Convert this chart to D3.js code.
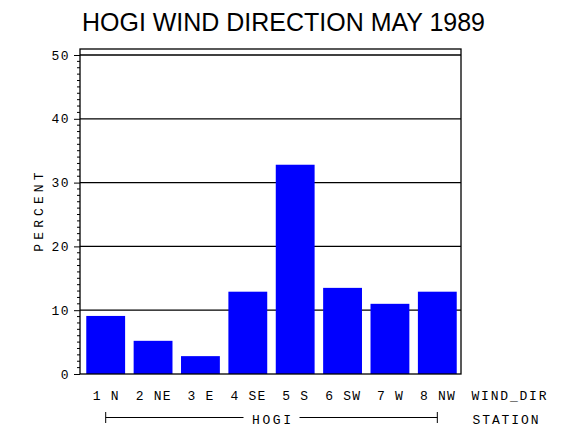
<!DOCTYPE html>
<html><head><meta charset="utf-8">
<script src="https://cdn.jsdelivr.net/npm/d3@7"></script>
<style>body{margin:0;background:#fff}svg{display:block}</style>
</head><body>
<script>
const categories = ["1 N","2 NE","3 E","4 SE","5 S","6 SW","7 W","8 NW"];
const percent = [9.1, 5.2, 2.8, 12.9, 32.8, 13.5, 11.0, 12.9];
const yTicks = [0,10,20,30,40,50];
const title = "HOGI WIND DIRECTION MAY 1989";
const groupLabel = "HOGI";

(function(){
const W=570,H=430;
const svg=d3.select("body").append("svg").attr("width",W).attr("height",H);
const pLeft=80,pRight=461,pTop=49,pBottom=374;
const x=d3.scaleBand().domain(categories).range([82,461]).paddingInner(0.18).paddingOuter(0.09);
const y=d3.scaleLinear().domain([0,50]).range([pBottom,55]);
const mono="'Liberation Mono', monospace";
const fs=13;

svg.append("text").attr("x",82).attr("y",31).attr("font-family","'Liberation Sans', Arial, sans-serif")
  .attr("font-size",25).attr("textLength",403).attr("lengthAdjust","spacingAndGlyphs").text(title);

svg.append("g").selectAll("line").data(yTicks.filter(d=>d>0)).join("line")
  .attr("x1",pLeft).attr("x2",pRight).attr("y1",d=>y(d)).attr("y2",d=>y(d))
  .attr("stroke","#000").attr("stroke-width",1.3);

svg.append("g").selectAll("rect").data(categories).join("rect")
  .attr("x",d=>x(d)).attr("width",x.bandwidth())
  .attr("y",(d,i)=>y(percent[i])).attr("height",(d,i)=>pBottom-y(percent[i]))
  .attr("fill","#0000ff");

svg.append("rect").attr("x",pLeft).attr("y",pTop).attr("width",pRight-pLeft).attr("height",pBottom-pTop)
  .attr("fill","none").attr("stroke","#000").attr("stroke-width",1.3);

const yAxis=d3.axisLeft(y).tickValues(yTicks).tickSize(6).tickPadding(4).tickFormat(d3.format("d"));
const gy=svg.append("g").attr("transform",`translate(${pLeft},0)`).call(yAxis);
gy.select(".domain").remove();
gy.selectAll("text").attr("font-family",mono).attr("font-size",fs).attr("letter-spacing",1.5);
const minor=d3.range(0,51).filter(d=>d%10!==0);
svg.append("g").selectAll("line").data(minor).join("line")
  .attr("x1",pLeft-3).attr("x2",pLeft).attr("y1",d=>y(d)).attr("y2",d=>y(d)).attr("stroke","#000");

svg.append("text").attr("transform","translate(43,210) rotate(-90)").attr("text-anchor","middle")
  .attr("font-family",mono).attr("font-size",fs).attr("letter-spacing",4.1).text("PERCENT");

svg.append("g").selectAll("text").data(categories).join("text")
  .attr("x",d=>x(d)+x.bandwidth()/2+0.6).attr("y",399.5).attr("text-anchor","middle")
  .attr("font-family",mono).attr("font-size",fs).attr("letter-spacing",1.2)
  .text(d=>d);
svg.append("text").attr("x",471.5).attr("y",399.5).attr("font-family",mono).attr("font-size",fs).attr("letter-spacing",1.8).text("WIND_DIR");
svg.append("text").attr("x",472.5).attr("y",424).attr("font-family",mono).attr("font-size",fs).attr("letter-spacing",1.9).text("STATION");

const gx1=x(categories[0])+x.bandwidth()/2, gx2=x(categories[categories.length-1])+x.bandwidth()/2;
const gmid=(gx1+gx2)/2;
const g=svg.append("g").attr("stroke","#000").attr("stroke-width",1);
g.append("line").attr("x1",gx1).attr("x2",gmid-28).attr("y1",417.5).attr("y2",417.5);
g.append("line").attr("x1",gmid+28).attr("x2",gx2).attr("y1",417.5).attr("y2",417.5);
g.append("line").attr("x1",gx1).attr("x2",gx1).attr("y1",412).attr("y2",423);
g.append("line").attr("x1",gx2).attr("x2",gx2).attr("y1",412).attr("y2",423);
svg.append("text").attr("x",gmid+1.3).attr("y",424).attr("text-anchor","middle").attr("font-family",mono)
  .attr("font-size",fs).attr("letter-spacing",2.6).text(groupLabel);
})();
</script>
</body></html>
